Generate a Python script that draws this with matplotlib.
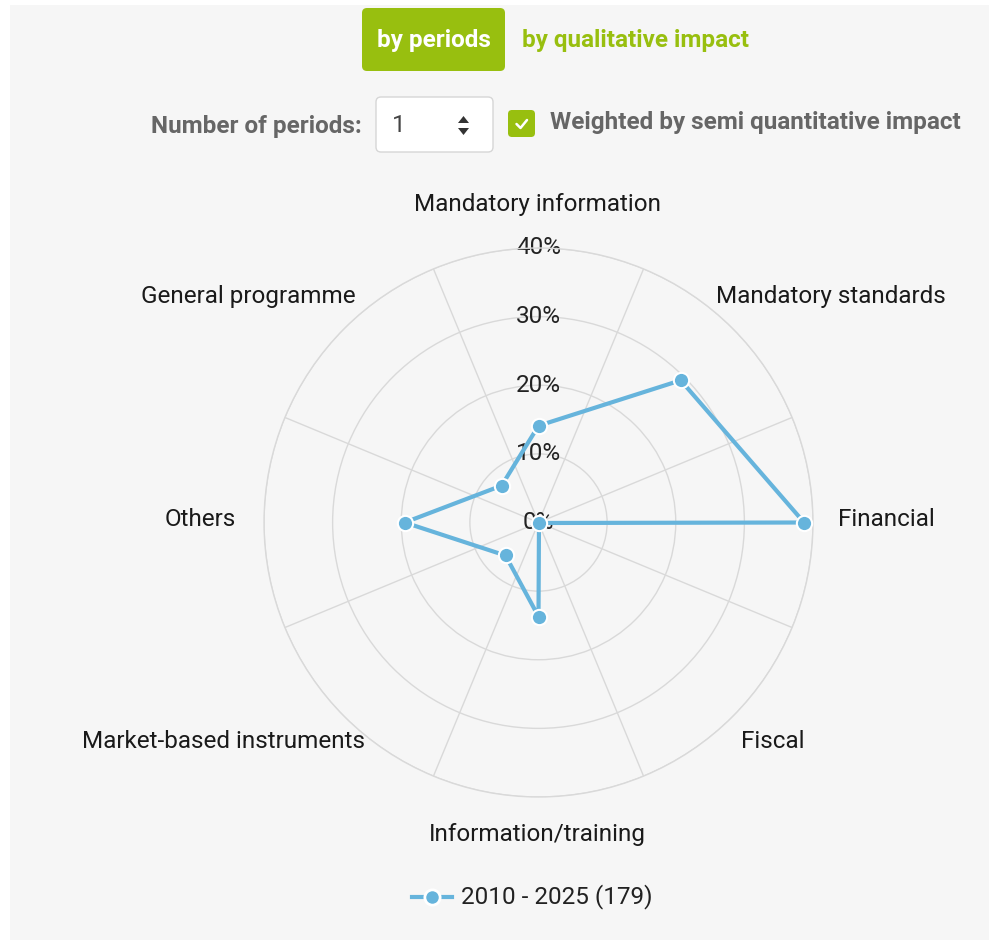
import numpy as np
import matplotlib
matplotlib.use('Agg')
import matplotlib.pyplot as plt
from matplotlib.patches import FancyBboxPatch, Rectangle, Polygon

plt.rcParams['font.family'] = ['Roboto', 'DejaVu Sans']

# Data
categories = ['Mandatory information', 'Mandatory standards', 'Financial', 'Fiscal',
              'Information/training', 'Market-based instruments', 'Others', 'General programme']
values = [14.1, 29.3, 38.7, 0.1, 13.7, 6.8, 19.5, 7.6]
r_ticks = [0, 10, 20, 30, 40]
series_name = '2010 - 2025 (179)'

line_col = '#66b4dc'
green = '#98bf0f'
grid_col = '#d9d9d9'
fs = 17.5

W, H = 989, 942
fig = plt.figure(figsize=(W / 100, H / 100), dpi=100, facecolor='white')

# overlay axes in pixel coords for panel, header and legend
ov = fig.add_axes([0, 0, 1, 1], zorder=0)
ov.set_xlim(0, W)
ov.set_ylim(H, 0)
ov.axis('off')
ov.add_patch(Rectangle((10, 5), W - 10, 935, facecolor='#f6f6f6', edgecolor='none'))

# header: tab buttons
ov.add_patch(FancyBboxPatch((362, 8), 143, 63, boxstyle='round,pad=0,rounding_size=5',
                            facecolor=green, edgecolor='none'))
ov.text(433.5, 40, 'by periods', color='white', fontsize=fs, fontweight='bold',
        ha='center', va='center')
ov.text(522, 40, 'by qualitative impact', color=green, fontsize=fs, fontweight='bold',
        ha='left', va='center')

# controls row
ov.text(362, 126, 'Number of periods:', color='#666666', fontsize=fs, fontweight='bold',
        ha='right', va='center')
ov.add_patch(FancyBboxPatch((376, 97), 117, 55, boxstyle='round,pad=0,rounding_size=5',
                            facecolor='white', edgecolor='#d6d6d6', linewidth=1))
ov.text(392, 125, '1', color='#444444', fontsize=fs, ha='left', va='center')
ov.add_patch(Polygon([[458, 123], [469, 123], [463.5, 116]], closed=True,
                     facecolor='#333333', edgecolor='none'))
ov.add_patch(Polygon([[458, 128], [469, 128], [463.5, 135]], closed=True,
                     facecolor='#333333', edgecolor='none'))
ov.add_patch(FancyBboxPatch((508, 110), 27, 27, boxstyle='round,pad=0,rounding_size=4',
                            facecolor=green, edgecolor='none'))
ov.plot([516.5, 520.5, 527], [124, 128, 120], color='white', lw=1.8, solid_capstyle='round')
ov.text(550, 123, 'Weighted by semi quantitative impact', color='#666666', fontsize=fs,
        fontweight='bold', ha='left', va='center')

# legend
ov.plot([412, 452], [897, 897], color=line_col, lw=3)
ov.plot([432], [897], 'o', color=line_col, markersize=11, markeredgecolor='white',
        markeredgewidth=2)
ov.text(461, 897, series_name, color='#222222', fontsize=fs, ha='left', va='center')

# polar chart
cx, cy, R = 538.5, 522.5, 274.5
ax = fig.add_axes([(cx - R) / W, (H - cy - R) / H, 2 * R / W, 2 * R / H],
                  projection='polar', zorder=1)
ax.set_facecolor('none')
ax.set_theta_zero_location('N')
ax.set_theta_direction(-1)

n = len(categories)
theta = np.arange(n) * 2 * np.pi / n
ax.set_xticks(theta + np.pi / n)
ax.set_xticklabels([])
ax.set_yticks(r_ticks[1:])
ax.set_yticklabels([])
ax.set_ylim(0, r_ticks[-1])
ax.grid(True, color=grid_col, linewidth=1)
ax.spines['polar'].set_color(grid_col)
ax.spines['polar'].set_linewidth(1)
ax.tick_params(length=0)

for v in r_ticks:
    ax.text(0, v, f'{v}%', ha='center', va='center', fontsize=fs, color='#222222', zorder=2)

th = np.append(theta, theta[0])
vals = np.append(values, values[0])
ax.plot(th, vals, color=line_col, lw=3, zorder=3, clip_on=False)
ax.plot(theta, values, 'o', color=line_col, markersize=11, markeredgecolor='white',
        markeredgewidth=1.5, zorder=4, clip_on=False)

# category labels (pixel offsets from centre)
label_off = [(-1.5, 318.5), (292.5, 225.5), (299.5, 2.5), (234.5, -219.5),
             (-1.5, -311.5), (-314.5, -219.5), (-302.5, 2.5), (-290.5, 225.5)]
label_ha = ['center', 'center', 'left', 'center', 'center', 'center', 'right', 'center']
for t, name, off, ha in zip(theta, categories, label_off, label_ha):
    ax.annotate(name, xy=(t, 0), xytext=off, textcoords='offset pixels',
                ha=ha, va='center', fontsize=fs, color='#1a1a1a', annotation_clip=False)

fig.savefig('out.png', dpi=100, facecolor='white')
